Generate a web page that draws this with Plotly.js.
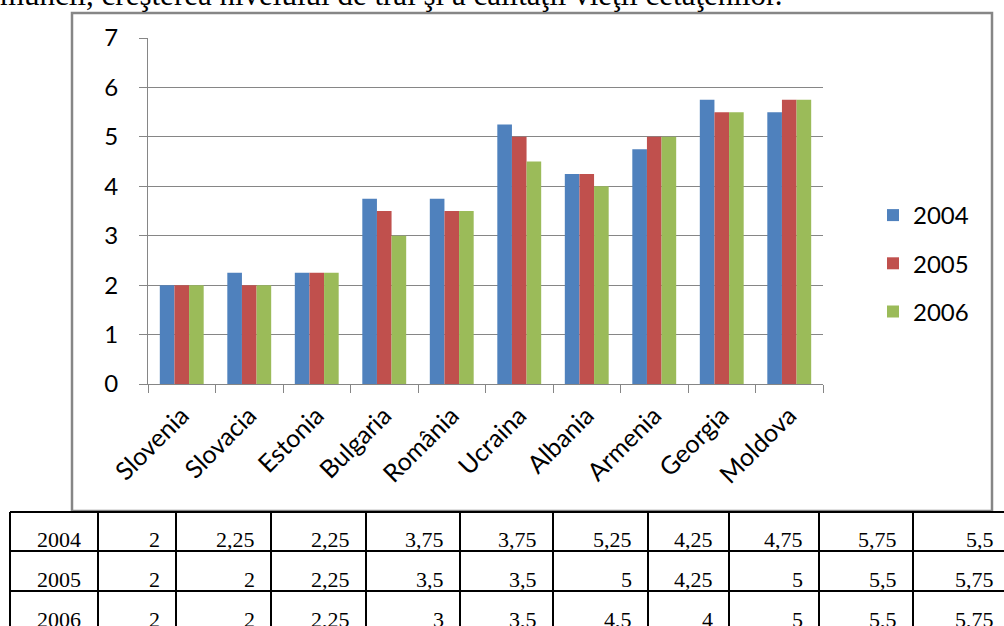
<!DOCTYPE html>
<html>
<head>
<meta charset="utf-8">
<script src="https://cdn.plot.ly/plotly-3.0.1.min.js"></script>
<style>html,body{margin:0;padding:0;background:#fff;}#chart{width:1004px;height:626px;}</style>
</head>
<body>
<div id="chart"></div>
<script>
const categories = ["Slovenia","Slovacia","Estonia","Bulgaria","România","Ucraina","Albania","Armenia","Georgia","Moldova"];
const years = ["2004","2005","2006"];
const values2004 = [2, 2.25, 2.25, 3.75, 3.75, 5.25, 4.25, 4.75, 5.75, 5.5];
const values2005 = [2, 2, 2.25, 3.5, 3.5, 5, 4.25, 5, 5.5, 5.75];
const values2006 = [2, 2, 2.25, 3, 3.5, 4.5, 4, 5, 5.5, 5.75];
const yTickValues = [0,1,2,3,4,5,6,7];
const topText = "muncii, creşterea nivelului de trai şi a calităţii vieţii cetăţenilor.";

const seriesValues = [values2004, values2005, values2006];
const colors = ["#4F81BD", "#C0504D", "#9BBB59"];

// pixel -> paper helpers (plot area: x 148..823, y 38..384)
const L = 148, R = 823, T = 38, B = 384;
const px = p => (p - L) / (R - L);
const py = p => (B - p) / (B - T);

const traces = seriesValues.map((vals, i) => ({
  type: "bar",
  name: years[i],
  x: categories,
  y: vals,
  marker: {color: colors[i], line: {width: 0}},
  legendgroup: "g" + i,
  hoverinfo: "x+y+name"
}));

const grey = "#868686";
const shapes = [];
const annotations = [];

// chart outer border
shapes.push({type: "rect", xref: "paper", yref: "paper",
  x0: px(72), x1: px(992), y0: py(511), y1: py(13),
  line: {color: grey, width: 2.5}, fillcolor: "rgba(0,0,0,0)", layer: "below"});

// table
const colEdges = [10, 98, 176, 271, 366, 460, 553, 648, 729, 819, 913, 1010];
const rowEdges = [512, 551, 591, 631];
for (const r of rowEdges) {
  shapes.push({type: "line", xref: "paper", yref: "paper",
    x0: px(colEdges[0]), x1: px(colEdges[colEdges.length - 1]), y0: py(r), y1: py(r),
    line: {color: "#000", width: 2}});
}
for (const c of colEdges) {
  shapes.push({type: "line", xref: "paper", yref: "paper",
    x0: px(c), x1: px(c), y0: py(rowEdges[0]), y1: py(rowEdges[rowEdges.length - 1]),
    line: {color: "#000", width: 2}});
}
const tableFont = {family: "Liberation Serif, Times New Roman, serif", size: 22, color: "#000"};
function fmt(v) { return String(v).replace(".", ","); }
seriesValues.forEach((vals, ri) => {
  const yc = (rowEdges[ri] + rowEdges[ri + 1]) / 2 + 8;
  annotations.push({xref: "paper", yref: "paper", x: px(59), y: py(yc), text: years[ri],
    showarrow: false, xanchor: "center", yanchor: "middle", font: tableFont});
  vals.forEach((v, ci) => {
    annotations.push({xref: "paper", yref: "paper", x: px(colEdges[ci + 2] - 14), y: py(yc),
      text: fmt(v), showarrow: false, xanchor: "right", yanchor: "middle", font: tableFont});
  });
});

// clipped text line at top (only its lower part is visible, as in the reference)
annotations.push({xref: "paper", yref: "paper", x: px(-2), y: py(14), text: topText,
  showarrow: false, xanchor: "left", yanchor: "bottom",
  font: {family: "Liberation Serif, Times New Roman, serif", size: 31, color: "#000"}});

const axisFont = {family: "Lato, Open Sans, sans-serif", size: 24, color: "#000"};
const xFont = {family: "Lato, Open Sans, sans-serif", size: 25, color: "#000"};

const layout = {
  width: 1004, height: 626,
  margin: {l: L, r: 1004 - R, t: T, b: 626 - B, pad: 0},
  paper_bgcolor: "#fff", plot_bgcolor: "#fff",
  barmode: "group", bargap: 0.35, bargroupgap: 0,
  showlegend: true,
  legend: {x: px(873), y: py(193), xanchor: "left", yanchor: "top",
    font: axisFont, traceorder: "grouped", tracegroupgap: 14, bgcolor: "rgba(0,0,0,0)"},
  xaxis: {type: "category", tickangle: -45, tickson: "boundaries", ticks: "outside", ticklen: 8,
    tickcolor: grey, tickwidth: 1, showline: true, linecolor: grey, linewidth: 1,
    showgrid: false, tickfont: xFont, ticklabelstandoff: 6, fixedrange: true},
  yaxis: {range: [0, 7], tickvals: yTickValues, ticks: "outside", ticklen: 8, tickcolor: grey,
    tickwidth: 1, showline: true, linecolor: grey, linewidth: 1, showgrid: true,
    gridcolor: grey, gridwidth: 1, zeroline: false, tickfont: axisFont,
    ticklabelstandoff: 16, fixedrange: true},
  shapes: shapes,
  annotations: annotations,
  font: axisFont
};

Plotly.newPlot("chart", traces, layout, {displayModeBar: false, staticPlot: true});
</script>
</body>
</html>
